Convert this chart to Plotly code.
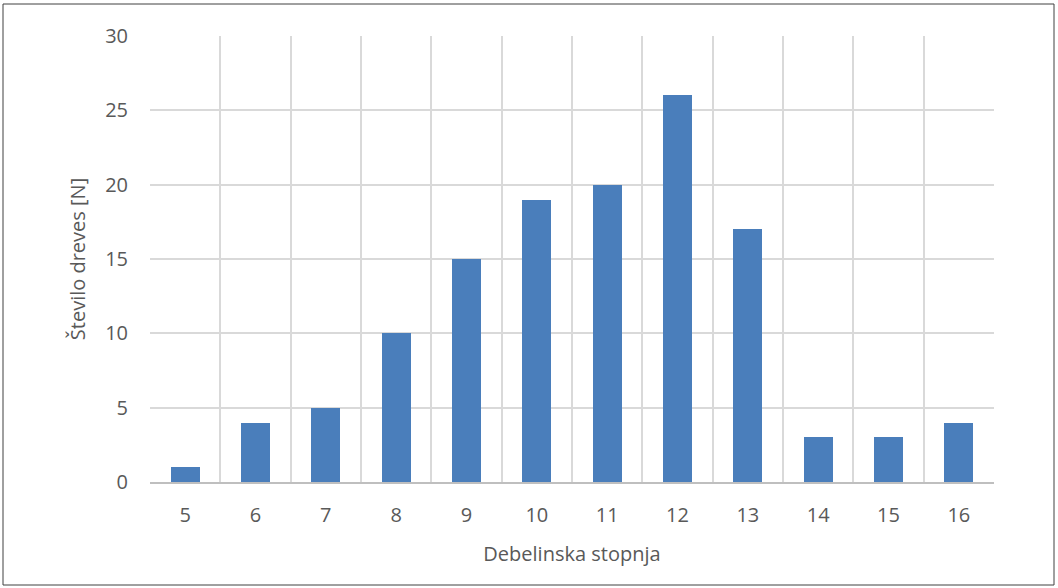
import plotly.graph_objects as go

categories = [5, 6, 7, 8, 9, 10, 11, 12, 13, 14, 15, 16]
values = [1, 4, 5, 10, 15, 19, 20, 26, 17, 3, 3, 4]
y_ticks = [0, 5, 10, 15, 20, 25, 30]

W, H = 1058, 588
L, R, T, B = 150, 64, 36, 106
pw, ph = W - L - R, H - T - B

font_family = "Open Sans, Lato, sans-serif"
txt = "#595959"

fig = go.Figure()
fig.add_trace(go.Bar(
    x=categories, y=values, width=0.41,
    marker=dict(color="#4A7EBB", line=dict(width=0)),
))

boundaries = [c - 0.5 for c in categories] + [categories[-1] + 0.5]

fig.update_layout(
    width=W, height=H,
    margin=dict(l=L, r=R, t=T, b=B),
    paper_bgcolor="white", plot_bgcolor="white",
    showlegend=False,
    font=dict(family=font_family, color=txt, size=20),
    bargap=0,
    xaxis=dict(
        range=[categories[0] - 0.5, categories[-1] + 0.5],
        tickmode="array", tickvals=categories, ticktext=[str(c) for c in categories],
        showgrid=False, ticks="", ticklen=0,
        minor=dict(tickmode="array", tickvals=boundaries, showgrid=True,
                   gridcolor="#D9D9D9", gridwidth=1.5, ticks=""),
        showline=True, linecolor="#BFBFBF", linewidth=1.5,
        zeroline=False,
        tickfont=dict(size=20, color=txt),
        ticklabelstandoff=14,
        title=dict(text="Debelinska stopnja", font=dict(size=20, color=txt), standoff=20),
        fixedrange=True,
    ),
    yaxis=dict(
        range=[0, 30], tickmode="array", tickvals=y_ticks,
        showgrid=True, gridcolor="#D9D9D9", gridwidth=1.5,
        zeroline=False, showline=False, ticks="",
        tickfont=dict(size=20, color=txt),
        ticklabelstandoff=21,
        title=dict(text="Število dreves [N]", font=dict(size=20, color=txt), standoff=14),
        fixedrange=True,
    ),
    shapes=[dict(
        type="rect", xref="paper", yref="paper",
        x0=(3 - L) / pw, x1=(1054 - L) / pw,
        y0=(H - B - 585) / ph, y1=(H - B - 4) / ph,
        line=dict(color="#404040", width=1), fillcolor="rgba(0,0,0,0)", layer="below",
    )],
)

fig.write_html(
    "out.html",
    config={"displayModeBar": False},
    post_script="document.body.style.margin='0';document.body.style.overflow='hidden';",
)
